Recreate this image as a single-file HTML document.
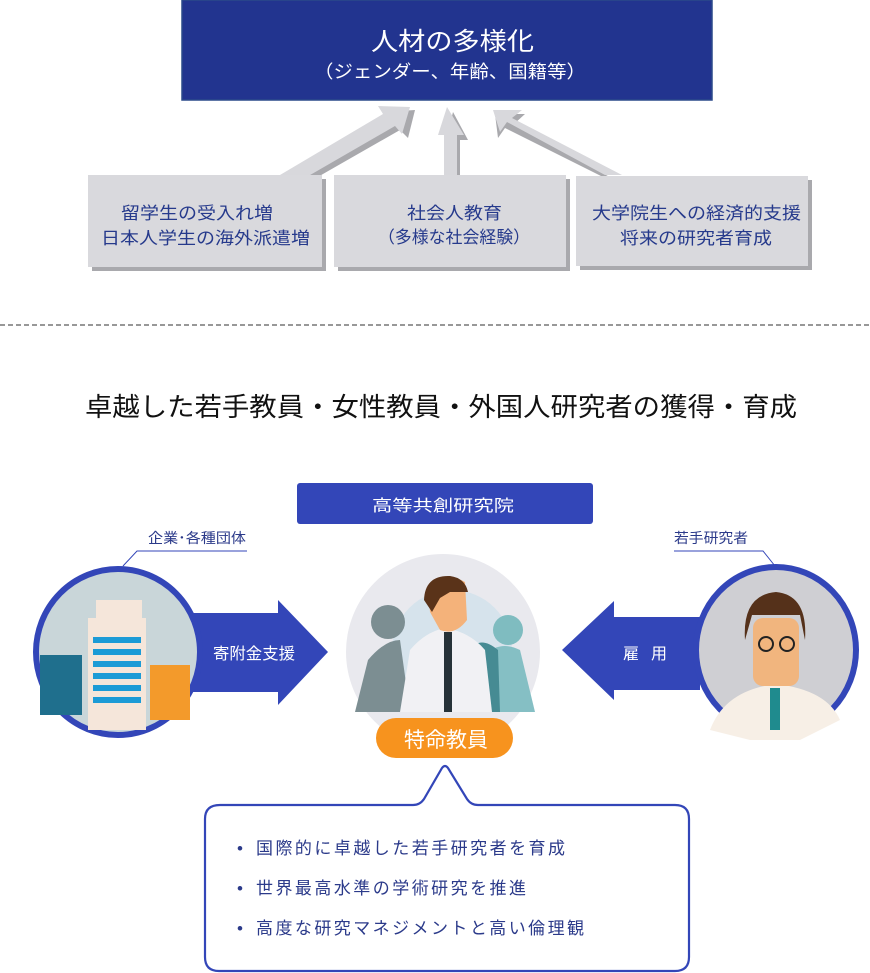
<!DOCTYPE html>
<html><head><meta charset="utf-8"><style>
html,body{margin:0;padding:0;background:#fff;}
svg{display:block;font-family:"Liberation Sans","Noto Sans CJK JP",sans-serif;}
</style></head><body>
<svg width="870" height="973" viewBox="0 0 870 973" xmlns="http://www.w3.org/2000/svg">
<rect x="182" y="0" width="530" height="100" fill="#22348f" stroke="#2b4a8a" stroke-width="1.5"/>
<text x="371" y="50" fill="#fff" font-size="25" textLength="163" lengthAdjust="spacingAndGlyphs">人材の多様化</text>
<text x="314" y="78" fill="#fff" font-size="18" textLength="272" lengthAdjust="spacingAndGlyphs">（ジェンダー、年齢、国籍等）</text>
<g fill="#a9a9ad">
<polygon points="292,178 390,120 384,112 415,110 408,138 400,130 302,186"/>
<polygon points="453,178 453,140 446,140 453,112 468,140 460,140 460,178"/>
<polygon points="605,178 505,128 498,138 495,114 525,114 514,124 615,180"/>
</g>
<g fill="#d8d8dc">
<polygon points="280,175 383,114 378,106 410,107 402,134 395,126 298,182"/>
<polygon points="444,175 444,135 438,135 447,107 464,135 457,135 457,175"/>
<polygon points="605,175 507,122 500,132 493,110 522,110 512,118 622,175"/>
</g>
<g fill="#a9a9ad"><rect x="92" y="179" width="234" height="92"/><rect x="338" y="179" width="232" height="92"/><rect x="580" y="180" width="232" height="90"/></g>
<g fill="#d9d9dd"><rect x="88" y="175" width="234" height="92"/><rect x="334" y="175" width="232" height="92"/><rect x="576" y="176" width="232" height="90"/></g>
<g fill="#263a8c" font-size="17" lengthAdjust="spacingAndGlyphs">
<text x="121" y="219" textLength="152" lengthAdjust="spacingAndGlyphs">留学生の受入れ増</text>
<text x="101" y="244" textLength="209" lengthAdjust="spacingAndGlyphs">日本人学生の海外派遣増</text>
<text x="407" y="219" textLength="95" lengthAdjust="spacingAndGlyphs">社会人教育</text>
<text x="378" y="243" textLength="152" lengthAdjust="spacingAndGlyphs">（多様な社会経験）</text>
<text x="592" y="219" textLength="209" lengthAdjust="spacingAndGlyphs">大学院生への経済的支援</text>
<text x="620" y="244" textLength="152" lengthAdjust="spacingAndGlyphs">将来の研究者育成</text>
</g>
<line x1="0" y1="325" x2="870" y2="325" stroke="#777" stroke-width="1.5" stroke-dasharray="5,3"/>
<text x="85" y="416" font-size="26" fill="#111" textLength="712" lengthAdjust="spacingAndGlyphs">卓越した若手教員・女性教員・外国人研究者の獲得・育成</text>
<rect x="297" y="483" width="296" height="41" rx="3" fill="#3346b8"/>
<text x="372" y="511" font-size="16" fill="#fff" textLength="142" lengthAdjust="spacingAndGlyphs">高等共創研究院</text>
<text x="148" y="543" font-size="14" fill="#2b3a8a" textLength="98" lengthAdjust="spacingAndGlyphs">企業･各種団体</text>
<polyline points="247,551 137,551 123,566" fill="none" stroke="#3346b8" stroke-width="1"/>
<text x="674" y="543" font-size="14" fill="#2b3a8a" textLength="74" lengthAdjust="spacingAndGlyphs">若手研究者</text>
<polyline points="674,551 763,551 775,566" fill="none" stroke="#3346b8" stroke-width="1"/>
<polygon points="180,613 278,613 278,600 328,652 278,705 278,692 180,692" fill="#3346b8"/>
<text x="213" y="659" font-size="16" fill="#fff" textLength="82" lengthAdjust="spacingAndGlyphs">寄附金支援</text>
<polygon points="700,617 614,617 614,601 562,650 614,700 614,690 700,690" fill="#3346b8"/>
<text x="623" y="659" font-size="16" fill="#fff" textLength="44" lengthAdjust="spacing">雇用</text>
<ellipse cx="443" cy="652" rx="97" ry="98" fill="#e9e9ee"/>
<circle cx="452" cy="650" r="60" fill="#d6e3ec"/>
<path d="M355,712 L368,660 Q385,640 400,640 L410,712Z" fill="#7c8e92"/>
<circle cx="388" cy="622" r="17" fill="#7c8e92"/>
<path d="M480,712 L485,655 Q500,640 520,650 L535,712Z" fill="#85bfc4"/>
<circle cx="508" cy="630" r="15" fill="#7fbcc0"/>
<path d="M468,712 L470,650 Q480,635 498,650 L500,712Z" fill="#468b93"/>
<path d="M400,712 L410,650 Q425,632 445,628 Q470,632 485,650 L492,712Z" fill="#f1f1f4"/>
<rect x="444" y="632" width="8" height="80" fill="#263238"/>
<path d="M428,588 Q445,570 465,582 L467,620 Q455,636 440,630 L430,612Z" fill="#f4b27a"/>
<path d="M424,600 Q425,575 450,576 Q465,578 468,592 L450,592 L440,598 L432,612Z" fill="#5a3319"/>
<ellipse cx="118" cy="652" rx="82" ry="83" fill="#c9d6d9" stroke="#3346b8" stroke-width="6"/>
<rect x="88" y="618" width="58" height="112" fill="#f5e6da"/>
<rect x="96" y="600" width="46" height="20" fill="#f5e6da"/>
<rect x="40" y="655" width="42" height="60" fill="#1f6f8d"/>
<rect x="150" y="665" width="40" height="55" fill="#f39a2b"/>
<g fill="#1c9bd6"><rect x="93" y="637" width="48" height="6"/><rect x="93" y="649" width="48" height="6"/><rect x="93" y="661" width="48" height="6"/><rect x="93" y="673" width="48" height="6"/><rect x="93" y="685" width="48" height="6"/><rect x="93" y="697" width="48" height="6"/></g>
<ellipse cx="776" cy="650" rx="80" ry="83" fill="#cfcfd3" stroke="#3346b8" stroke-width="6"/>
<path d="M710,730 Q725,690 776,684 Q827,690 840,720 L800,740 L750,740Z" fill="#f7efe6"/>
<rect x="753" y="618" width="46" height="68" rx="10" fill="#f1b57e"/>
<path d="M745,640 Q742,595 776,592 Q808,595 805,640 L800,615 L752,615Z" fill="#55311a"/>
<circle cx="766" cy="644" r="7" fill="none" stroke="#222" stroke-width="2"/>
<circle cx="787" cy="644" r="7" fill="none" stroke="#222" stroke-width="2"/>
<rect x="770" y="688" width="10" height="42" fill="#1f8b8e"/>
<rect x="376" y="718" width="137" height="40" rx="20" fill="#f7931e"/>
<text x="404" y="747" font-size="21" fill="#fff" textLength="84" lengthAdjust="spacingAndGlyphs">特命教員</text>
<path d="M220,805 L413,805 Q420,805 424,799 L442,768 Q445,764 448,768 L467,799 Q471,805 478,805 L675,805 Q689,805 689,819 L689,957 Q689,971 675,971 L219,971 Q205,971 205,957 L205,819 Q205,805 220,805Z" fill="#fff" stroke="#3346b8" stroke-width="2.2"/>
<g font-size="17" fill="#2b3a8a">
<text x="237" y="854">•</text><text x="256" y="854" textLength="309" lengthAdjust="spacing">国際的に卓越した若手研究者を育成</text>
<text x="237" y="894">•</text><text x="256" y="894" textLength="270" lengthAdjust="spacing">世界最高水準の学術研究を推進</text>
<text x="237" y="934">•</text><text x="256" y="934" textLength="328" lengthAdjust="spacing">高度な研究マネジメントと高い倫理観</text>
</g>
</svg>
</body></html>
